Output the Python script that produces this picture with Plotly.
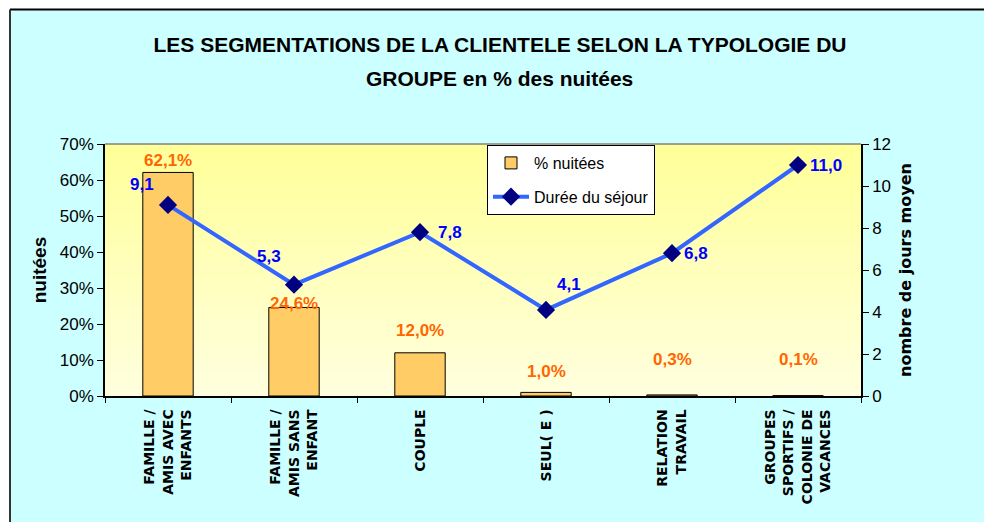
import plotly.graph_objects as go

# ---------------- data ----------------
categories = [
    "FAMILLE /<br>AMIS AVEC<br>ENFANTS",
    "FAMILLE /<br>AMIS SANS<br>ENFANT",
    "COUPLE",
    "SEUL( E )",
    "RELATION<br>TRAVAIL",
    "GROUPES<br>SPORTIFS /<br>COLONIE DE<br>VACANCES",
]
pct_nuitees = [62.1, 24.6, 12.0, 1.0, 0.3, 0.1]
duree_sejour = [9.1, 5.3, 7.8, 4.1, 6.8, 11.0]
pct_ticks = [0, 10, 20, 30, 40, 50, 60, 70]
jours_ticks = [0, 2, 4, 6, 8, 10, 12]

# ---------------- styling (offsets of labels, px) ----------------
bar_label_dy = [12, 4, 22, 21, 35, 36]
line_label_dx = [-26, -25, 30, 23, 24, 28]
line_label_dy = [20, 28, 0, 25, 0, 0]

FONT = "Liberation Sans, Arial, sans-serif"
WIDE = "DejaVu Sans, Verdana, sans-serif"

# plot area in pixels
L, R, T, B = 105, 861, 144, 396
PW, PH = R - L, B - T


def px_x(x):
    return (x - L) / PW


def px_y(y):
    return (B - y) / PH


def fr(v, nd=1):
    return f"{v:.{nd}f}".replace(".", ",")


fig = go.Figure()

fig.add_trace(go.Bar(
    x=categories, y=pct_nuitees, name="% nuitées",
    marker=dict(color="#FFCC66", line=dict(color="black", width=1)),
    yaxis="y", legendgroup="a",
))
fig.add_trace(go.Scatter(
    x=categories, y=duree_sejour, name="Durée du séjour",
    mode="lines+markers", yaxis="y2", legendgroup="b",
    line=dict(color="#3366FF", width=4),
    marker=dict(symbol="diamond", size=14, color="#000080"),
))

# background: cyan chart area with black top/left border
bx, by = px_x(10), px_y(9.5)
shapes = [
    dict(type="rect", xref="paper", yref="paper", layer="below",
         x0=bx, x1=1.3, y0=-1.0, y1=by,
         fillcolor="#CCFFFF", line=dict(width=0)),
    dict(type="line", xref="paper", yref="paper", layer="below",
         x0=bx, x1=1.3, y0=by, y1=by, line=dict(color="black", width=2)),
    dict(type="line", xref="paper", yref="paper", layer="below",
         x0=bx, x1=bx, y0=-1.0, y1=by, line=dict(color="#333333", width=2)),
]
# plot-area vertical gradient (light yellow)
n = 40
top = (255, 255, 153)
bot = (255, 255, 222)
for i in range(n):
    t = i / (n - 1)
    c = tuple(round(bot[k] + (top[k] - bot[k]) * t) for k in range(3))
    shapes.append(dict(type="rect", xref="paper", yref="paper", layer="below",
                       x0=0, x1=1, y0=i / n, y1=(i + 1) / n + 0.002,
                       fillcolor="rgb(%d,%d,%d)" % c, line=dict(width=0)))
shapes.append(dict(type="line", xref="paper", yref="paper", layer="below",
                   x0=0, x1=1, y0=1, y1=1, line=dict(color="#808080", width=1.5)))

annotations = [
    dict(text="GROUPE en % des nuitées", xref="paper", yref="paper",
         x=px_x(500), y=px_y(78), xanchor="center", yanchor="middle",
         showarrow=False,
         font=dict(family=FONT, size=21, color="black", weight="bold")),
]
for i, (c, v) in enumerate(zip(categories, pct_nuitees)):
    annotations.append(dict(
        x=c, y=v, xref="x", yref="y", text=fr(v) + "%", showarrow=False,
        yshift=bar_label_dy[i], yanchor="middle",
        font=dict(family=FONT, size=17, color="#FF6600", weight="bold"),
    ))
for i, (c, v) in enumerate(zip(categories, duree_sejour)):
    annotations.append(dict(
        x=c, y=v, xref="x", yref="y2", text=fr(v), showarrow=False,
        xshift=line_label_dx[i], yshift=line_label_dy[i],
        font=dict(family=FONT, size=17, color="#0000FF", weight="bold"),
    ))

fig.update_layout(
    width=984, height=522,
    margin=dict(l=L, r=984 - R, t=T, b=522 - B, autoexpand=False),
    paper_bgcolor="white",
    plot_bgcolor="rgba(0,0,0,0)",
    font=dict(family=FONT, size=16, color="black"),
    title=dict(
        text="LES SEGMENTATIONS DE LA CLIENTELE SELON LA TYPOLOGIE DU",
        x=500 / 984, xanchor="center", y=1 - 45 / 522, yanchor="middle",
        font=dict(family=FONT, size=21, color="black", weight="bold"),
    ),
    bargap=0.6,
    showlegend=True,
    legend=dict(
        x=px_x(487), y=px_y(145), xanchor="left", yanchor="top",
        bgcolor="white", bordercolor="black", borderwidth=1,
        font=dict(family=FONT, size=16, color="black"),
        traceorder="grouped", tracegroupgap=10, itemwidth=36,
    ),
    xaxis=dict(
        type="category", tickangle=-90, tickson="boundaries",
        ticks="outside", ticklen=5, tickcolor="black",
        showline=True, linecolor="black", linewidth=1.5,
        showgrid=False, zeroline=False,
        tickfont=dict(family=WIDE, size=14, color="black", weight="bold"),
        ticklabelstandoff=6,
    ),
    yaxis=dict(
        range=[0, 70], tickvals=pct_ticks,
        ticktext=[f"{v}%" for v in pct_ticks],
        ticks="outside", ticklen=6, tickcolor="black",
        showline=True, linecolor="black", linewidth=1.5,
        showgrid=False, zeroline=False,
        tickfont=dict(family=FONT, size=17, color="black"),
        title=dict(text="nuitées", standoff=8,
                   font=dict(family=FONT, size=19, color="black", weight="bold")),
    ),
    yaxis2=dict(
        range=[0, 12], tickvals=jours_ticks, overlaying="y", side="right",
        ticks="outside", ticklen=6, tickcolor="black",
        showline=True, linecolor="black", linewidth=1.5,
        showgrid=False, zeroline=False,
        tickfont=dict(family=FONT, size=17, color="black"),
        title=dict(text="nombre de jours moyen", standoff=10,
                   font=dict(family=WIDE, size=16, color="black", weight="bold")),
    ),
    shapes=shapes,
    annotations=annotations,
)

fig.write_html("out.html", config={"displayModeBar": False},
               post_script="document.body.style.margin='0';")
